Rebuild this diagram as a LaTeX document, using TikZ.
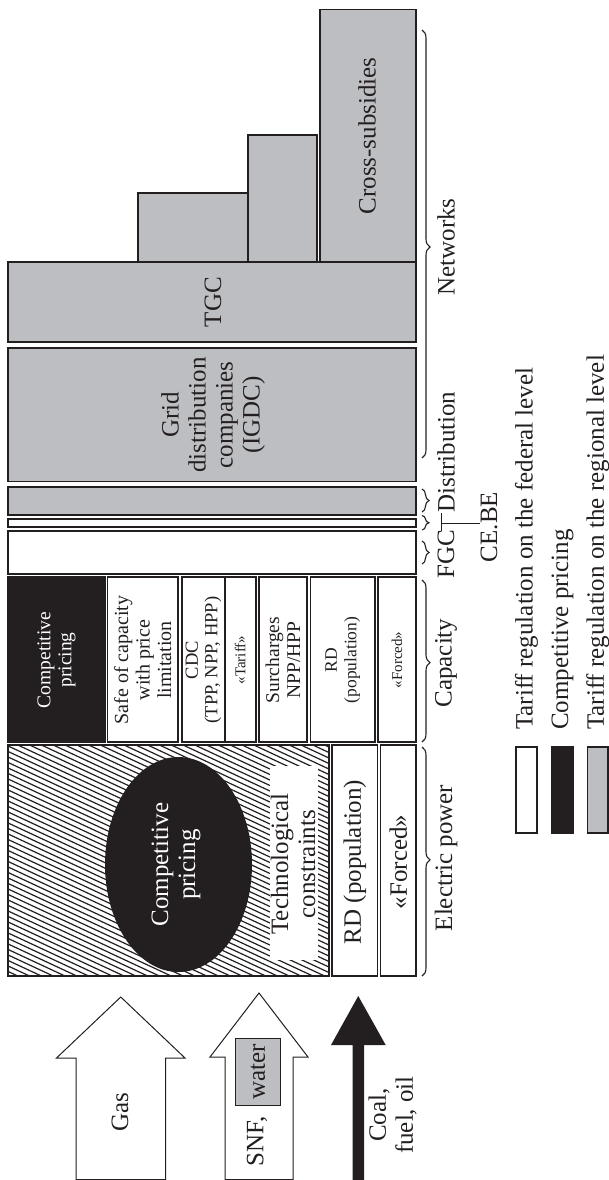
\documentclass[tikz,border=0pt]{standalone}
\usepackage{fontspec}
\setmainfont{Liberation Serif}
\usetikzlibrary{decorations.pathreplacing}
\definecolor{grayfill}{RGB}{189,190,193}
\definecolor{ink}{RGB}{35,31,32}
\begin{document}
\begin{tikzpicture}[x=1pt,y=-1pt,
  box/.style={draw=ink,line width=1.3pt},
  gbox/.style={box,fill=grayfill},
  wbox/.style={box,fill=white},
  arrowbox/.style={draw=ink,line width=1pt,line join=miter},
  lbl/.style={rotate=90,font=\fontsize{25}{27}\selectfont,inner sep=0pt,align=center,text=ink},
  brc/.style={draw=ink,line width=1.1pt,decorate,decoration={brace,amplitude=8pt,aspect=#1}},
  brc/.default=0.5,
  hatch/.style={draw=ink,line width=1.2pt}]
\useasboundingbox (0,0) rectangle (609,1180);

% ---------- networks / distribution ----------
\draw[gbox] (320,9.5) rectangle (416,262);
\draw[gbox] (248,135) rectangle (317,262);
\draw[gbox] (138,193) rectangle (248,262);
\draw[gbox] (8,262) rectangle (416,342);
\draw[gbox] (8,348) rectangle (416,481.5);
\draw[gbox] (8,487) rectangle (416,515);
\draw[wbox] (8,519) rectangle (416,527);
\draw[wbox] (8,531) rectangle (416,574);

\node[lbl] (cross) at (367,136) {Cross-subsidies};
\node[lbl] (tgc) at (213,302) {TGC};
\node[lbl] (grid) at (213,415) {Grid\\distribution\\companies\\(IGDC)};

% ---------- capacity ----------
\draw[box,fill=ink] (8,577) rectangle (105,742);
\draw[wbox] (107.5,577) rectangle (178,742);
\draw[wbox] (182,577) rectangle (255.5,742);
\draw[draw=ink,line width=2pt] (225,577) rectangle (255.5,742);
\draw[wbox] (259,577) rectangle (307,742);
\draw[wbox] (310.5,577) rectangle (375,742);
\draw[wbox] (378,577) rectangle (416,742);

\node[lbl,font=\fontsize{19.5}{21}\selectfont,text=white] (cp1) at (56.5,660) {Competitive\\pricing};
\node[lbl,font=\fontsize{20}{21.5}\selectfont] (safe) at (142.75,660) {Safe of capacity\\with price\\limitation};
\node[lbl,font=\fontsize{18.5}{19.5}\selectfont] (cdc) at (203.5,660) {CDC\\(TPP, NPP, HPP)};
\node[lbl,font=\fontsize{15}{16}\selectfont] (tariff) at (240.25,660) {«Tariff»};
\node[lbl,font=\fontsize{19.5}{21}\selectfont] (surch) at (283,660) {Surcharges\\NPP/HPP};
\node[lbl,font=\fontsize{17.5}{19.5}\selectfont] (rdc) at (342.75,660) {RD\\(population)};
\node[lbl,font=\fontsize{15}{16}\selectfont] (forcedc) at (397,660) {«Forced»};

% ---------- electric power ----------
\fill[white] (8,745) rectangle (329,976);
\begin{scope}
  \clip (8,745) rectangle (329,976);
  \foreach \k in {-32,...,44}
    \draw[hatch] (6,{745+\k*5.5}) -- ++(330,153.8);
\end{scope}
\fill[ink] (178.5,864.5) ellipse [x radius=73.5, y radius=107.5];
\fill[white] (270,766) rectangle (318,960);
\draw[box] (8,745) rectangle (329,976);
\draw[wbox] (332,745) rectangle (377.5,976);
\draw[wbox] (380.5,745) rectangle (416,976);

\node[lbl,text=white] (cp2) at (176,864.5) {Competitive\\pricing};
\node[lbl] (tech) at (293,864) {Technological\\constraints};
\node[lbl] (rde) at (354.75,862) {RD (population)};
\node[lbl] (forcede) at (398.25,862) {«Forced»};

% ---------- braces and labels ----------
\draw[brc=0.507] (422,30) -- (422,458);
\draw[brc,decoration={amplitude=7pt}] (422,489) -- (422,512);
\draw[brc,decoration={amplitude=7pt}] (422,515.5) -- (422,530);
\draw[brc,decoration={amplitude=7pt}] (422,541) -- (422,564);
\draw[brc=0.51] (422,580) -- (422,742);
\draw[brc=0.493] (422,747) -- (422,976);

\node[lbl] (networks) at (446,247) {Networks};
\node[lbl] (distr) at (446,452) {Distribution};
\node[lbl] (fgc) at (446,554) {FGC};
\node[lbl] (cebe) at (489,527) {CE.BE};
\node[lbl] (capacity) at (446,663) {Capacity};
\node[lbl] (elpower) at (446,858) {Electric power};

\coordinate (tta) at (441,513);
\coordinate (ttb) at (441,531);
\coordinate (ttc) at (441,523);
\draw[ink,line width=1pt] (tta) -- (ttb);
\draw[ink,line width=1pt] (ttc) -- (cebe.north |- ttc);

% ---------- legend ----------
\draw[wbox] (516,747) rectangle (537,833);
\draw[box,fill=ink] (552,747) rectangle (573,833);
\draw[gbox] (587.5,747) rectangle (608,833);
\node[lbl,anchor=west] (leg1) at (526.5,730) {Tariff regulation on the federal level};
\node[lbl,anchor=west] (leg2) at (562.5,730) {Competitive pricing};
\node[lbl,anchor=west] (leg3) at (597.75,730) {Tariff regulation on the regional level};

% ---------- input arrows ----------
\draw[arrowbox,fill=white] (76,1179.5) -- (76,1058) -- (56.5,1058) -- (120.75,997) -- (185,1058) -- (165.5,1058) -- (165.5,1179.5) -- cycle;
\draw[arrowbox,fill=white] (225,1179.5) -- (225,1057) -- (210,1057) -- (259,993) -- (308,1057) -- (293,1057) -- (293,1179.5) -- cycle;
\draw[arrowbox,fill=grayfill] (235.7,1038) rectangle (280.5,1105);
\fill[ink] (352.5,1180) -- (352.5,1045) -- (331,1045) -- (358.25,996) -- (385.7,1045) -- (364,1045) -- (364,1180) -- cycle;

\node[lbl] (gas) at (120,1112) {Gas};
\node[lbl] (water) at (258,1071.5) {water};
\node[lbl] (snf) at (257,1141) {SNF,};
\node[lbl] (coal) at (392.5,1115) {Coal,\\fuel, oil};
\end{tikzpicture}
\end{document}
